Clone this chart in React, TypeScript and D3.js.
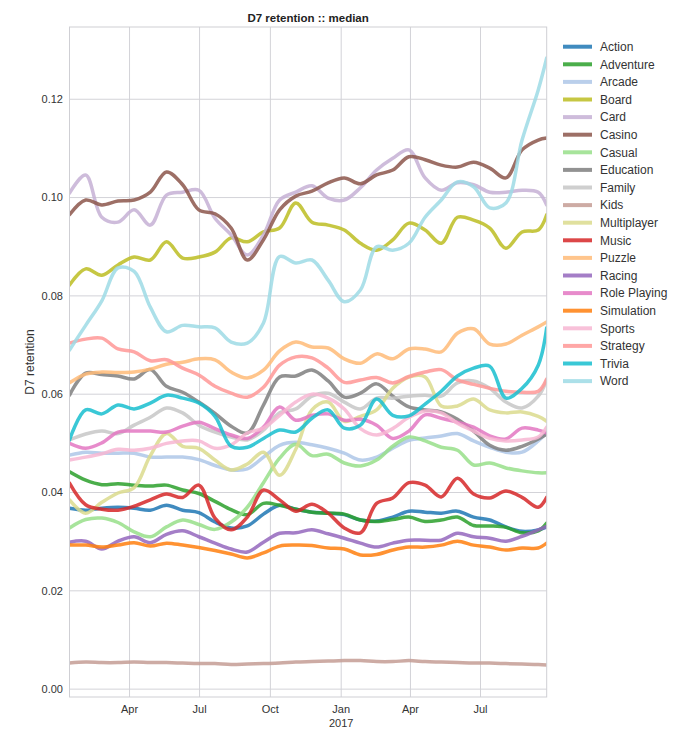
import * as d3 from "d3"

const dates = [
  "2016-01-14", "2016-02-04", "2016-02-25", "2016-03-17", "2016-04-07", "2016-04-28",
  "2016-05-19", "2016-06-09", "2016-06-30", "2016-07-21", "2016-08-11", "2016-09-01",
  "2016-09-22", "2016-10-13", "2016-11-03", "2016-11-24", "2016-12-15", "2017-01-05",
  "2017-01-26", "2017-02-16", "2017-03-09", "2017-03-30", "2017-04-20", "2017-05-11",
  "2017-06-01", "2017-06-22", "2017-07-13", "2017-08-03", "2017-08-24", "2017-09-14",
  "2017-09-25",
]

const categories = [
  "Action", "Adventure", "Arcade", "Board", "Card", "Casino", "Casual", "Education",
  "Family", "Kids", "Multiplayer", "Music", "Puzzle", "Racing", "Role Playing",
  "Simulation", "Sports", "Strategy", "Trivia", "Word",
]

const colors = [
  "#1f77b4", "#2ca02c", "#aec7e8", "#bcbd22", "#c5b0d5", "#8c564b", "#98df8a", "#7f7f7f",
  "#c7c7c7", "#c49c94", "#dbdb8d", "#d62728", "#ffbb78", "#9467bd", "#e377c2",
  "#ff7f0e", "#f7b6d2", "#ff9896", "#17becf", "#9edae5",
]

const action = [0.0368, 0.0364, 0.0368, 0.037, 0.0368, 0.0364, 0.0374, 0.0364, 0.0359, 0.034, 0.0328, 0.0332, 0.0356, 0.0374, 0.0366, 0.036, 0.0358, 0.0355, 0.0344, 0.0342, 0.035, 0.0362, 0.036, 0.0358, 0.0362, 0.035, 0.0344, 0.033, 0.0321, 0.0324, 0.033]
const adventure = [0.0442, 0.0425, 0.0416, 0.0418, 0.0415, 0.0413, 0.0415, 0.0405, 0.0398, 0.0382, 0.0365, 0.0355, 0.0378, 0.0374, 0.0366, 0.036, 0.0358, 0.0356, 0.0344, 0.0341, 0.0345, 0.035, 0.0341, 0.0344, 0.035, 0.0333, 0.0332, 0.0329, 0.0318, 0.0322, 0.0338]
const arcade = [0.0476, 0.0482, 0.048, 0.048, 0.048, 0.0472, 0.0472, 0.0472, 0.0467, 0.0455, 0.0446, 0.0448, 0.0472, 0.0496, 0.0502, 0.0497, 0.049, 0.048, 0.0466, 0.0472, 0.049, 0.0506, 0.0511, 0.0515, 0.052, 0.0505, 0.0492, 0.0482, 0.0482, 0.0505, 0.0523]
const board = [0.0822, 0.0855, 0.0842, 0.0863, 0.0879, 0.0873, 0.091, 0.0877, 0.0879, 0.0889, 0.0918, 0.091, 0.093, 0.0938, 0.0989, 0.095, 0.0944, 0.0934, 0.0907, 0.0893, 0.0914, 0.0948, 0.0934, 0.0907, 0.096, 0.0954, 0.0938, 0.0897, 0.093, 0.0934, 0.0965]
const card = [0.1009, 0.1046, 0.096, 0.095, 0.0975, 0.0944, 0.1005, 0.1011, 0.1015, 0.0958, 0.0924, 0.0883, 0.0924, 0.0995, 0.1011, 0.1024, 0.0999, 0.0995, 0.102, 0.1056, 0.108, 0.1097, 0.104, 0.1015, 0.103, 0.1026, 0.1011, 0.1011, 0.1015, 0.1011, 0.0985]
const casino = [0.0965, 0.0995, 0.0985, 0.0993, 0.0995, 0.1011, 0.1052, 0.1026, 0.0975, 0.0967, 0.0938, 0.0873, 0.0914, 0.0975, 0.1003, 0.1013, 0.103, 0.104, 0.1028, 0.1046, 0.1056, 0.1083, 0.1077, 0.1066, 0.1062, 0.1072, 0.106, 0.104, 0.1097, 0.1117, 0.1121]
const casual = [0.0328, 0.0345, 0.0348, 0.0339, 0.032, 0.031, 0.033, 0.0344, 0.0335, 0.0325, 0.034, 0.037, 0.042, 0.047, 0.0498, 0.0475, 0.0478, 0.046, 0.0454, 0.0466, 0.0494, 0.0513, 0.0505, 0.0492, 0.0486, 0.0456, 0.046, 0.045, 0.0444, 0.044, 0.044]
const education = [0.0598, 0.0643, 0.064, 0.0637, 0.0631, 0.065, 0.0616, 0.0604, 0.0584, 0.0561, 0.0535, 0.0521, 0.0578, 0.0635, 0.0637, 0.0649, 0.0627, 0.0594, 0.0602, 0.0621, 0.0596, 0.0574, 0.0568, 0.0564, 0.0549, 0.0525, 0.0496, 0.0486, 0.0494, 0.0509, 0.0519]
const family = [0.0507, 0.0519, 0.0525, 0.052, 0.0537, 0.0553, 0.0572, 0.0562, 0.0537, 0.0523, 0.0513, 0.0507, 0.0527, 0.0562, 0.057, 0.0596, 0.0602, 0.0584, 0.057, 0.0592, 0.0592, 0.0596, 0.0598, 0.0596, 0.0623, 0.0627, 0.0612, 0.0584, 0.0572, 0.0596, 0.0629]
const kids = [0.0053, 0.0055, 0.0054, 0.0054, 0.0055, 0.0054, 0.0054, 0.0053, 0.0052, 0.0052, 0.005, 0.0051, 0.0052, 0.0053, 0.0055, 0.0056, 0.0057, 0.0058, 0.0058, 0.0056, 0.0056, 0.0058, 0.0056, 0.0055, 0.0054, 0.0053, 0.0053, 0.0052, 0.0051, 0.005, 0.0049]
const multiplayer = [0.0385, 0.0358, 0.038, 0.0399, 0.041, 0.0475, 0.052, 0.0494, 0.049, 0.0466, 0.0446, 0.0458, 0.0482, 0.0435, 0.0488, 0.0568, 0.0584, 0.0545, 0.0555, 0.0568, 0.0612, 0.0635, 0.0635, 0.0576, 0.0576, 0.059, 0.0568, 0.0562, 0.0564, 0.0555, 0.0545]
const music = [0.0419, 0.0375, 0.0366, 0.0364, 0.0372, 0.0385, 0.0397, 0.039, 0.0415, 0.0348, 0.0324, 0.035, 0.0405, 0.0385, 0.0362, 0.0376, 0.0358, 0.0328, 0.0318, 0.0378, 0.0389, 0.042, 0.0415, 0.0391, 0.0429, 0.0397, 0.0389, 0.0403, 0.039, 0.037, 0.039]
const puzzle = [0.0623, 0.0641, 0.0645, 0.0644, 0.0645, 0.0651, 0.0661, 0.0665, 0.0672, 0.067, 0.0645, 0.0633, 0.0649, 0.0688, 0.0706, 0.0696, 0.0694, 0.0672, 0.0663, 0.0682, 0.0672, 0.0692, 0.0692, 0.0686, 0.0724, 0.0733, 0.0702, 0.0702, 0.072, 0.0737, 0.0747]
const racing = [0.0299, 0.0301, 0.0285, 0.0301, 0.031, 0.0298, 0.0315, 0.0322, 0.031, 0.0297, 0.0285, 0.0279, 0.0299, 0.0317, 0.0318, 0.0324, 0.0316, 0.0307, 0.0297, 0.0289, 0.0297, 0.0303, 0.0303, 0.0303, 0.0317, 0.031, 0.0307, 0.0301, 0.0311, 0.0324, 0.0331]
const rolePlaying = [0.05, 0.049, 0.0501, 0.0523, 0.0525, 0.0525, 0.0523, 0.0535, 0.0543, 0.053, 0.0517, 0.051, 0.0533, 0.0574, 0.0547, 0.0557, 0.056, 0.0547, 0.0549, 0.0537, 0.051, 0.0525, 0.0558, 0.0551, 0.0543, 0.0533, 0.0515, 0.0509, 0.0531, 0.0527, 0.0521]
const simulation = [0.0293, 0.0293, 0.0289, 0.0293, 0.0298, 0.0291, 0.0297, 0.0293, 0.0288, 0.0282, 0.0275, 0.0267, 0.0277, 0.0291, 0.0293, 0.0292, 0.0287, 0.0285, 0.0273, 0.0274, 0.0283, 0.0289, 0.0289, 0.0293, 0.0301, 0.0293, 0.0289, 0.0283, 0.0287, 0.0287, 0.0297]
const sports = [0.0466, 0.0472, 0.0479, 0.0488, 0.0486, 0.049, 0.05, 0.0505, 0.0505, 0.049, 0.0497, 0.0521, 0.0531, 0.0557, 0.0584, 0.06, 0.0592, 0.057, 0.053, 0.0517, 0.053, 0.0553, 0.0566, 0.0562, 0.0541, 0.0525, 0.051, 0.0505, 0.0507, 0.0513, 0.0533]
const strategy = [0.0704, 0.0712, 0.0714, 0.0692, 0.0686, 0.0668, 0.067, 0.0653, 0.0639, 0.0616, 0.0602, 0.0594, 0.0614, 0.0659, 0.0676, 0.0674, 0.0653, 0.0624, 0.0629, 0.0634, 0.0623, 0.0636, 0.0645, 0.065, 0.0629, 0.062, 0.0612, 0.0606, 0.0604, 0.0606, 0.0631]
const trivia = [0.0507, 0.0568, 0.056, 0.0578, 0.057, 0.0582, 0.0598, 0.0592, 0.0582, 0.0555, 0.0494, 0.0492, 0.051, 0.0527, 0.0523, 0.0551, 0.0568, 0.0531, 0.0537, 0.059, 0.0557, 0.0556, 0.058, 0.0606, 0.0637, 0.0653, 0.0657, 0.0592, 0.0612, 0.0659, 0.0735]
const word = [0.069, 0.074, 0.079, 0.0857, 0.085, 0.0777, 0.0727, 0.074, 0.0737, 0.0735, 0.0706, 0.0704, 0.0745, 0.088, 0.0867, 0.0873, 0.0832, 0.0788, 0.0812, 0.09, 0.0893, 0.0907, 0.096, 0.0995, 0.1032, 0.1022, 0.0979, 0.0989, 0.1117, 0.1219, 0.1284]

const seriesValues = [
  action, adventure, arcade, board, card, casino, casual, education, family, kids,
  multiplayer, music, puzzle, racing, rolePlaying, simulation, sports, strategy, trivia, word,
]

const yTicks = [0, 0.02, 0.04, 0.06, 0.08, 0.1, 0.12]

const W = 675
const H = 741
const margin = { left: 69.5, right: 546.7, top: 27, bottom: 697 }
const font = "'Liberation Sans', Arial, sans-serif"

export default function App() {
  const parse = d3.timeParse("%Y-%m-%d")
  const xs = dates.map((d) => parse(d) as Date)

  const x = d3
    .scaleTime()
    .domain([parse("2016-01-14") as Date, parse("2017-09-25") as Date])
    .range([margin.left, margin.right])
  const y = d3.scaleLinear().domain([-0.0016, 0.1347]).range([margin.bottom, margin.top])

  const xTicks = x.ticks(d3.timeMonth.every(3) as d3.TimeInterval)
  const fmtMonth = d3.timeFormat("%b")

  const line = d3
    .line<number>()
    .x((_, i) => x(xs[i]))
    .y((v) => y(v))
    .curve(d3.curveCatmullRom.alpha(0.5))

  const legendX = 563
  const legendY = 46.7
  const legendStep = 17.6

  return (
    <div style={{ position: "absolute", left: 0, top: 0 }}>
      <svg width={W} height={H} style={{ display: "block", background: "#fff" }}>
        <defs>
          <clipPath id="plot">
            <rect x={margin.left} y={margin.top} width={margin.right - margin.left} height={margin.bottom - margin.top} />
          </clipPath>
        </defs>

        {/* grid */}
        {yTicks.map((t) => (
          <line key={"gy" + t} x1={margin.left} x2={margin.right} y1={y(t)} y2={y(t)} stroke="#d3d3d8" strokeWidth={1} />
        ))}
        {xTicks.map((t) => (
          <line key={"gx" + t.getTime()} x1={x(t)} x2={x(t)} y1={margin.top} y2={margin.bottom} stroke="#d3d3d8" strokeWidth={1} />
        ))}

        {/* series */}
        <g clipPath="url(#plot)">
          {seriesValues.map((vals, i) => (
            <path
              key={categories[i]}
              d={line(vals) as string}
              fill="none"
              stroke={colors[i]}
              strokeWidth={3.5}
              strokeOpacity={0.85}
              strokeLinejoin="round"
              strokeLinecap="round"
            />
          ))}
        </g>

        {/* frame */}
        <rect
          x={margin.left}
          y={margin.top}
          width={margin.right - margin.left}
          height={margin.bottom - margin.top}
          fill="none"
          stroke="#cfcfd4"
          strokeWidth={1}
        />

        {/* y ticks */}
        {yTicks.map((t) => (
          <text key={"ty" + t} x={63} y={y(t)} dy="0.35em" textAnchor="end" fontSize={11} fill="#333" fontFamily={font}>
            {d3.format(".2f")(t)}
          </text>
        ))}

        {/* x ticks */}
        {xTicks.map((t) => (
          <g key={"tx" + t.getTime()}>
            <text x={x(t)} y={713} textAnchor="middle" fontSize={11} fill="#333" fontFamily={font}>
              {fmtMonth(t)}
            </text>
            {t.getMonth() === 0 ? (
              <text x={x(t)} y={726.5} textAnchor="middle" fontSize={11} fill="#333" fontFamily={font}>
                {t.getFullYear()}
              </text>
            ) : null}
          </g>
        ))}

        {/* axis label */}
        <text
          transform={`translate(34,${(margin.top + margin.bottom) / 2}) rotate(-90)`}
          textAnchor="middle"
          fontSize={12}
          fill="#333"
          fontFamily={font}
        >
          D7 retention
        </text>

        {/* title */}
        <text
          x={(margin.left + margin.right) / 2}
          y={21.5}
          textAnchor="middle"
          fontSize={11.5}
          fontWeight={700}
          fill="#222"
          fontFamily={font}
        >
          D7 retention :: median
        </text>

        {/* legend */}
        {categories.map((c, i) => (
          <g key={"lg" + c} transform={`translate(${legendX},${legendY + i * legendStep})`}>
            <line x1={0} x2={29} y1={0} y2={0} stroke={colors[i]} strokeWidth={4} strokeOpacity={0.85} />
            <text x={37} y={0} dy="0.35em" fontSize={12} fill="#333" fontFamily={font}>
              {c}
            </text>
          </g>
        ))}
      </svg>
    </div>
  )
}
